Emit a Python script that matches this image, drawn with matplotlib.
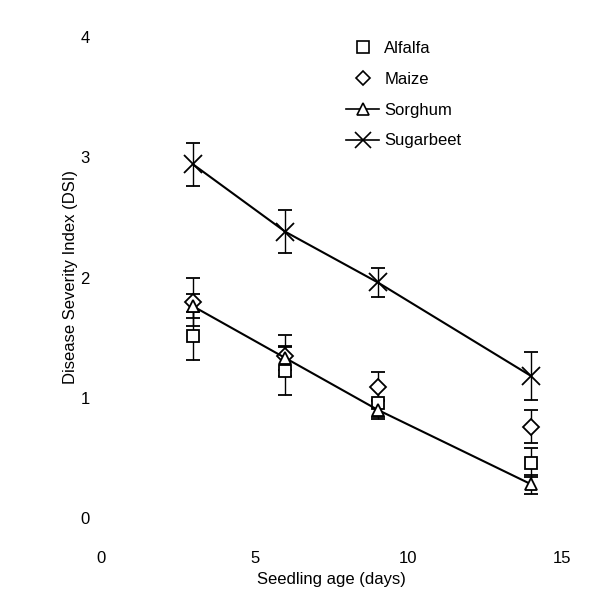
import matplotlib
matplotlib.use("Agg")
import matplotlib.pyplot as plt
from matplotlib.lines import Line2D
import numpy as np

plt.rcParams['font.family'] = ['Liberation Sans', 'DejaVu Sans']

age = [3, 6, 9, 14]
alfalfa = [1.51, 1.22, 0.96, 0.46]
alfalfa_err = [0.2, 0.2, 0.12, 0.12]
maize = [1.80, 1.35, 1.09, 0.76]
maize_err = [0.2, 0.17, 0.12, 0.14]
sorghum = [1.76, 1.33, 0.90, 0.28]
sorghum_err = [0.1, 0.1, 0.08, 0.08]
sugarbeet = [2.94, 2.38, 1.96, 1.18]
sugarbeet_err = [0.18, 0.18, 0.12, 0.2]

xticks = [0, 5, 10, 15]
yticks = [0, 1, 2, 3, 4]

fig = plt.figure(figsize=(6.06, 6.13), dpi=100)
W, H = 606, 613
ax = fig.add_axes([101 / W, 1 - 518 / H, (562 - 101) / W, (518 - 37) / H])
ax.set_xlim(0, 15)
ax.set_ylim(0, 4)

for s in ax.spines.values():
    s.set_visible(False)

common = dict(color='black', ecolor='black', elinewidth=1.0, capsize=5,
              capthick=1.2, markerfacecolor='white', markeredgecolor='black',
              markeredgewidth=1.3, clip_on=False)

ax.errorbar(age, alfalfa, yerr=alfalfa_err, fmt='s', markersize=9,
            linestyle='none', **common)
ax.errorbar(age, maize, yerr=maize_err, fmt='D', markersize=8,
            linestyle='none', **common)
ax.errorbar(age, sorghum, yerr=sorghum_err, fmt='^', markersize=9,
            linestyle='-', linewidth=1.5, **common)
ax.errorbar(age, sugarbeet, yerr=sugarbeet_err, fmt='x', markersize=13,
            linestyle='-', linewidth=1.5,
            **{k: v for k, v in common.items() if k != 'markerfacecolor'})

handles = [
    Line2D([], [], marker='s', linestyle='none', markersize=8, color='black',
           markerfacecolor='white', markeredgewidth=1.2),
    Line2D([], [], marker='D', linestyle='none', markersize=7, color='black',
           markerfacecolor='white', markeredgewidth=1.2),
    Line2D([], [], marker='^', linestyle='-', linewidth=1.2, markersize=8,
           color='black', markerfacecolor='white', markeredgewidth=1.2),
    Line2D([], [], marker='x', linestyle='-', linewidth=1.2, markersize=11,
           color='black', markeredgewidth=1.2),
]
labels = ['Alfalfa', 'Maize', 'Sorghum', 'Sugarbeet']

ax.set_xticks(xticks)
ax.set_yticks(yticks)
ax.tick_params(axis='x', length=0, pad=24, labelsize=12)
ax.tick_params(axis='y', length=0, pad=8, labelsize=12)

ax.set_xlabel('Seedling age (days)', fontsize=12, labelpad=4)
ax.set_ylabel('Disease Severity Index (DSI)', fontsize=12, labelpad=2)

ax.legend(handles, labels, loc='upper left', bbox_to_anchor=(0.499, 1.023),
          frameon=False, fontsize=12, handlelength=2.0, handletextpad=0.3,
          labelspacing=0.95)

fig.savefig('out.png', dpi=100)
